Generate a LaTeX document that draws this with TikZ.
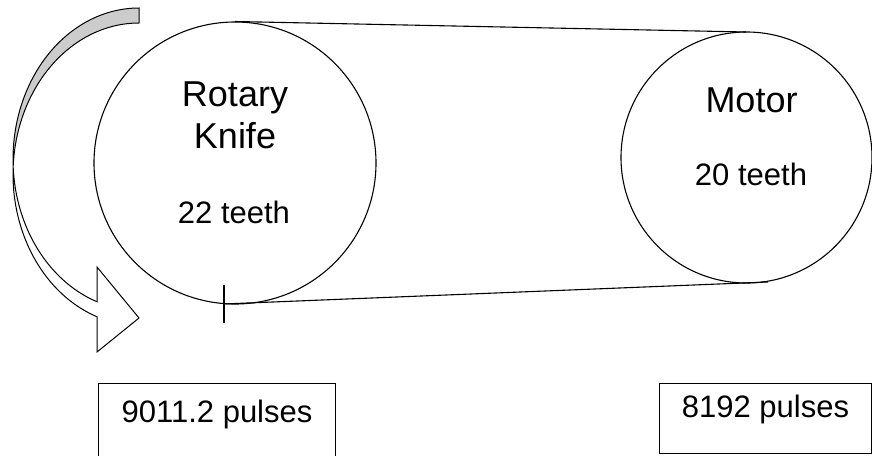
\documentclass[tikz,border=0pt]{standalone}
\usepackage{fontspec}
\setmainfont{Liberation Sans}
\begin{document}
\begin{tikzpicture}[x=1pt,y=-1pt,line width=1.1pt,
  wheel/.style={draw,circle,inner sep=0pt,line width=1.1pt},
  bigtxt/.style={anchor=base,inner sep=0pt,font=\fontsize{36}{40}\selectfont},
  smalltxt/.style={anchor=base,inner sep=0pt,font=\fontsize{31}{36}\selectfont},
  pulsebox/.style={draw,rectangle,anchor=north west,inner sep=0pt,align=center,font=\fontsize{31}{36}\selectfont}]
\clip (0,0) rectangle (872,455);
% curved arrow: back (grey) part
\filldraw[fill=gray!40,line width=1pt]
  plot[domain=270:177.16,samples=60] ({139+126*cos(\x)},{159.2+151.2*sin(\x)})
  -- plot[domain=182.84:270,samples=60] ({139+126*cos(\x)},{174.2+151.2*sin(\x)}) -- cycle;
% curved arrow: front (white) part with head
\filldraw[fill=white,line width=1pt]
  plot[domain=182.84:109.47,samples=60] ({139+126*cos(\x)},{174.2+151.2*sin(\x)})
  -- (97,352) -- (139,318) -- (97,267)
  -- plot[domain=109.47:177.16,samples=60] ({139+126*cos(\x)},{159.2+151.2*sin(\x)}) -- cycle;
% wheels
\node[wheel,minimum size=282pt] (knife) at (235,163) {};
\node[wheel,minimum size=251pt] (motor) at (746.5,157.5) {};
% belt
\coordinate (kt) at (235,21.5);
\coordinate (mt) at (746,32);
\coordinate (kb) at (223,304);
\coordinate (mb) at (768,282);
\draw (kt) -- (mt);
\draw (kb) -- (mb);
% tick mark
\coordinate (tk1) at (224,285);
\coordinate (tk2) at (224,323);
\draw (tk1) -- (tk2);
% texts
\node[bigtxt] (rot) at (235,106.7) {Rotary};
\node[bigtxt] (kni) at (235,148) {Knife};
\node[smalltxt] (kteeth) at (234,223) {22 teeth};
\node[bigtxt] (mot) at (751.5,112) {Motor};
\node[smalltxt] (mteeth) at (751,185) {20 teeth};
% pulse boxes
\node[pulsebox,minimum width=237pt,text height=39pt,text depth=50pt] (kpulse) at (98,383) {9011.2 pulses};
\node[pulsebox,minimum width=212pt,text height=34pt,text depth=36pt] (mpulse) at (659,383) {8192 pulses};
\end{tikzpicture}
\end{document}
